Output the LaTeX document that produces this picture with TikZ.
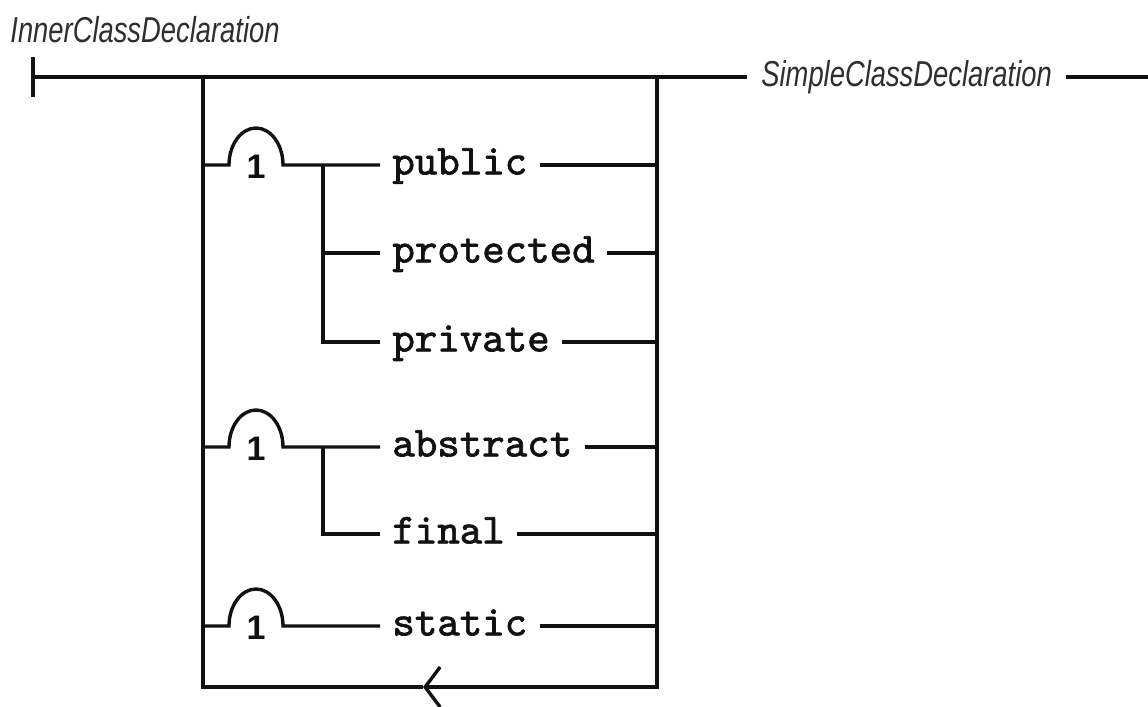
\documentclass[tikz,border=0pt]{standalone}
\usepackage{fontspec}
\usepackage{xcolor}
\usepackage{tikz}
\usetikzlibrary{arrows.meta,calc}
\newfontfamily\kwfont{lmmono10-regular.otf}[FakeBold=1.6]
\newfontfamily\prodfont{Liberation Sans}[FakeStretch=0.76]
\newfontfamily\digitfont{Liberation Sans}
\definecolor{ink}{HTML}{111111}
\definecolor{greyink}{HTML}{2E2E2E}
\tikzset{
  rail/.style={draw=ink, line width=1.7pt},
  kw/.style={font=\kwfont\fontsize{21.4}{24}\selectfont, text=ink, anchor=west,
             inner xsep=6pt, inner ysep=0pt, text height=9.4pt, text depth=0pt},
  prod/.style={font=\prodfont\itshape\fontsize{18}{20}\selectfont, text=greyink,
               inner xsep=7pt, inner ysep=0pt, text height=9.3pt, text depth=0pt},
  once/.style={font=\digitfont\bfseries\fontsize{17}{20}\selectfont, text=ink, inner sep=0pt},
  hump/.style={x radius=13.5pt, y radius=18.5pt, start angle=180, end angle=0},
  backloop/.style={rail, -{Straight Barb[length=7.5pt, width=20pt]}},
}

\begin{document}
\begin{tikzpicture}[x=0.5pt, y=-0.5pt]
\useasboundingbox (0,0) rectangle (1148,707);
\coordinate (start)  at (33,77);
\coordinate (lsplit) at (203,77);
\coordinate (rjoin)  at (657,77);
\coordinate (lbot)   at (203,687);
\coordinate (rbot)   at (657,687);
\coordinate (loop)   at (423,687);
\coordinate (stop)   at (1148,77);
\coordinate (b1)     at (323,165);
\coordinate (b2)     at (323,447);
\node[prod, inner sep=0pt, anchor=base west] (icd) at (10,42) {InnerClassDeclaration};
\node[prod, anchor=west] (scd) at (747,77) {SimpleClassDeclaration};
\node[kw] (pub)  at (380,165) {public};
\node[kw] (prot) at (380,253) {protected};
\node[kw] (priv) at (380,342) {private};
\node[kw] (abs)  at (380,447) {abstract};
\node[kw] (fin)  at (380,534) {final};
\node[kw] (stat) at (380,626) {static};
\node[once] (one1) at (256,167) {1};
\node[once] (one2) at (256,449) {1};
\node[once] (one3) at (256,628) {1};
% main line
\draw[rail] (start) ++(0,-20) -- ++(0,40);
\draw[rail] (start) -- (scd.west);
\draw[rail] (scd.east) -- (stop);
% the loop round the modifiers
\draw[rail] (lsplit) -- (lbot) -- (loop);
\draw[backloop] (rjoin) -- (rbot) -- (loop);
% choices, at most one of each
\draw[rail] (lsplit |- pub) -- ++(26,0) arc[hump] -- (pub.west);
\draw[rail] (b1) |- (prot.west); \draw[rail] (b1) |- (priv.west);
\draw[rail] (lsplit |- abs) -- ++(26,0) arc[hump] -- (abs.west);
\draw[rail] (b2) |- (fin.west);
\draw[rail] (lsplit |- stat) -- ++(26,0) arc[hump] -- (stat.west);
\foreach \k in {pub,prot,priv,abs,fin,stat}
  \draw[rail] (\k.east) -- (\k.east -| rjoin);
\end{tikzpicture}
\end{document}
